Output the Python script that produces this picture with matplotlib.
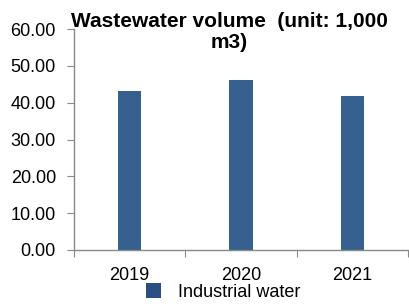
import matplotlib
matplotlib.use("Agg")
import matplotlib.pyplot as plt
from matplotlib.patches import Patch

years = ["2019", "2020", "2021"]
industrial_water = [43.2, 46.1, 41.8]
yticks = [0, 10, 20, 30, 40, 50, 60]

plt.rcParams['font.family'] = ['Liberation Sans', 'DejaVu Sans']

fig = plt.figure(figsize=(4.10, 3.04), dpi=100)
ax = fig.add_axes([74/410, 54/304, 334/410, 221/304])

x = list(range(len(years)))
ax.bar(x, industrial_water, width=0.21, color="#36608F", zorder=2)

ax.set_xlim(-0.5, len(years) - 0.5)
ax.set_ylim(0, 60)
ax.set_yticks(yticks)
ax.set_yticklabels([f"{v:.2f}" for v in yticks], fontsize=13)

ax.set_xticks([i - 0.5 for i in range(len(years) + 1)])
ax.set_xticklabels([])
ax.set_xticks(x, minor=True)
ax.set_xticklabels(years, minor=True, fontsize=13)
ax.tick_params(axis='x', which='minor', length=0, pad=12)
ax.tick_params(axis='x', which='major', length=5, color="#898989", direction='out')
ax.tick_params(axis='y', length=5, color="#898989", direction='out', pad=8)

for s in ["top", "right"]:
    ax.spines[s].set_visible(False)
for s in ["left", "bottom"]:
    ax.spines[s].set_color("#898989")
    ax.spines[s].set_linewidth(1.0)

fig.text(229/410, 1 - 12/304, "Wastewater volume  (unit: 1,000\nm3)", ha='center', va='top',
         fontsize=15, fontweight='bold', linespacing=1.1)

handle = Patch(facecolor="#2A4F84", edgecolor="none")
fig.legend([handle], ["Industrial water"], loc='center', bbox_to_anchor=(223/410, 1 - 292/304),
           frameon=False, fontsize=13, handlelength=0.85, handleheight=0.85, handletextpad=0.9,
           borderpad=0, borderaxespad=0)

fig.savefig("out.png", dpi=100)
